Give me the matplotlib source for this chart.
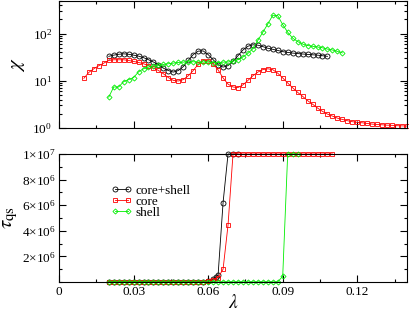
import numpy as np
import matplotlib
matplotlib.use('Agg')
import matplotlib.pyplot as plt
from matplotlib.ticker import MultipleLocator, FixedLocator, FuncFormatter, LogLocator, NullFormatter

plt.rcParams['font.family'] = ['Liberation Serif', 'DejaVu Serif']
plt.rcParams['mathtext.fontset'] = 'stix'

# ---- top panel: susceptibility chi ----
lam_core = [0.010, 0.012, 0.014, 0.016, 0.018, 0.020, 0.022, 0.024, 0.026, 0.028,
            0.030, 0.032, 0.034, 0.036, 0.038, 0.040, 0.042, 0.044, 0.046, 0.048,
            0.050, 0.052, 0.054, 0.056, 0.058, 0.060, 0.062, 0.064, 0.066, 0.068,
            0.070, 0.072, 0.074, 0.076, 0.078, 0.080, 0.082, 0.084, 0.086, 0.088,
            0.090, 0.092, 0.094, 0.096, 0.098, 0.100, 0.102, 0.104, 0.106, 0.108,
            0.110, 0.112, 0.114, 0.116, 0.118, 0.120, 0.122, 0.124, 0.126, 0.128,
            0.130, 0.132, 0.134, 0.136, 0.138, 0.140]
chi_core = [11.3, 15.1, 18.0, 20.9, 23.7, 27.0, 27.9, 27.9, 27.9, 27.0,
            25.7, 24.5, 23.0, 20.9, 18.6, 16.6, 14.1, 11.7, 10.2, 9.9,
            10.6, 12.8, 16.5, 22.5, 26.8, 26.5, 23.0, 17.0, 11.5, 8.5,
            7.4, 7.2, 8.2, 10.2, 12.8, 15.3, 17.3, 18.0, 17.2, 14.5,
            11.5, 9.0, 7.1, 5.7, 4.7, 3.8, 3.2, 2.65, 2.25, 1.97,
            1.79, 1.62, 1.52, 1.43, 1.36, 1.32, 1.29, 1.25, 1.21, 1.19,
            1.17, 1.15, 1.14, 1.12, 1.11, 1.10]

lam_cs = [0.020, 0.022, 0.024, 0.026, 0.028, 0.030, 0.032, 0.034, 0.036, 0.038,
          0.040, 0.042, 0.044, 0.046, 0.048, 0.050, 0.052, 0.054, 0.056, 0.058,
          0.060, 0.062, 0.064, 0.066, 0.068, 0.070, 0.072, 0.074, 0.076, 0.078,
          0.080, 0.082, 0.084, 0.086, 0.088, 0.090, 0.092, 0.094, 0.096, 0.098,
          0.100, 0.102, 0.104, 0.106, 0.108]
chi_cs = [33.0, 35.0, 36.5, 37.3, 36.5, 35.0, 33.3, 31.0, 28.0, 25.0,
          22.0, 18.5, 16.5, 15.3, 16.5, 20.0, 27.0, 36.0, 42.5, 43.0,
          36.0, 28.0, 22.0, 19.5, 21.0, 26.0, 34.0, 45.0, 54.0, 58.0,
          57.0, 53.0, 49.0, 46.5, 44.0, 41.5, 40.0, 38.7, 37.8, 37.0,
          36.3, 35.6, 35.0, 34.0, 33.0]

lam_shell = [0.020, 0.022, 0.024, 0.026, 0.028, 0.030, 0.032, 0.034, 0.036, 0.038,
             0.040, 0.042, 0.044, 0.046, 0.048, 0.050, 0.052, 0.054, 0.056, 0.058,
             0.060, 0.062, 0.064, 0.066, 0.068, 0.070, 0.072, 0.074, 0.076, 0.078,
             0.080, 0.082, 0.084, 0.086, 0.088, 0.090, 0.092, 0.094, 0.096, 0.098,
             0.100, 0.102, 0.104, 0.106, 0.108, 0.110, 0.112, 0.114]
chi_shell = [4.5, 7.4, 7.4, 9.6, 10.6, 11.7, 15.5, 18.0, 19.5, 20.5,
             21.2, 22.2, 23.0, 23.7, 24.5, 24.9, 25.3, 25.3, 25.0, 24.9,
             24.9, 24.2, 24.2, 24.9, 25.0, 26.0, 28.0, 32.0, 38.0, 48.0,
             72.0, 107.0, 160.0, 245.0, 240.0, 155.0, 107.0, 80.0, 68.0, 60.0,
             56.0, 54.0, 52.0, 50.0, 47.0, 45.0, 42.0, 39.0]

# ---- bottom panel: tau_qs (units of 1e6) ----
lam_cs_t = [0.020, 0.022, 0.024, 0.026, 0.028, 0.030, 0.032, 0.034, 0.036, 0.038,
            0.040, 0.042, 0.044, 0.046, 0.048, 0.050, 0.052, 0.054, 0.056, 0.058,
            0.060, 0.062, 0.063, 0.064, 0.066, 0.068, 0.070, 0.072]
tau_cs = [0.03, 0.03, 0.03, 0.03, 0.03, 0.03, 0.03, 0.03, 0.03, 0.03,
          0.03, 0.03, 0.03, 0.03, 0.03, 0.03, 0.03, 0.03, 0.03, 0.04,
          0.08, 0.2, 0.4, 0.55, 6.2, 10.0, 10.0, 10.0]

lam_core_t = [0.020, 0.022, 0.024, 0.026, 0.028, 0.030, 0.032, 0.034, 0.036, 0.038,
              0.040, 0.042, 0.044, 0.046, 0.048, 0.050, 0.052, 0.054, 0.056, 0.058,
              0.060, 0.062, 0.064, 0.066, 0.068, 0.070, 0.072, 0.074, 0.076, 0.078,
              0.080, 0.082, 0.084, 0.086, 0.088, 0.090, 0.092, 0.094, 0.096, 0.098,
              0.100, 0.102, 0.104, 0.106, 0.108, 0.110]
tau_core = [0.03, 0.03, 0.03, 0.03, 0.03, 0.03, 0.03, 0.03, 0.03, 0.03,
            0.03, 0.03, 0.03, 0.03, 0.03, 0.03, 0.03, 0.03, 0.03, 0.04,
            0.06, 0.15, 0.35, 1.0, 4.45, 10.0, 10.0, 10.0, 10.0, 10.0,
            10.0, 10.0, 10.0, 10.0, 10.0, 10.0, 10.0, 10.0, 10.0, 10.0,
            10.0, 10.0, 10.0, 10.0, 10.0, 10.0]

lam_shell_t = [0.020, 0.022, 0.024, 0.026, 0.028, 0.030, 0.032, 0.034, 0.036, 0.038,
               0.040, 0.042, 0.044, 0.046, 0.048, 0.050, 0.052, 0.054, 0.056, 0.058,
               0.060, 0.062, 0.064, 0.066, 0.068, 0.070, 0.072, 0.074, 0.076, 0.078,
               0.080, 0.082, 0.084, 0.086, 0.088, 0.090, 0.092, 0.094, 0.096]
tau_shell = [0.01, 0.01, 0.01, 0.01, 0.01, 0.01, 0.01, 0.01, 0.01, 0.01,
             0.01, 0.01, 0.01, 0.01, 0.01, 0.01, 0.01, 0.01, 0.01, 0.01,
             0.01, 0.01, 0.01, 0.01, 0.01, 0.01, 0.01, 0.01, 0.01, 0.01,
             0.01, 0.01, 0.01, 0.01, 0.01, 0.45, 10.0, 10.0, 10.0]

labels = ['core+shell', 'core', 'shell']
colors = ['#000000', '#ff0000', '#00ee00']
markers = ['o', 's', 'D']
msizes = [3.6, 3.3, 2.6]

fig = plt.figure(figsize=(4.09, 3.13), dpi=100)
ax1 = fig.add_axes([0.1443, 0.591, 0.8508, 0.407])
ax2 = fig.add_axes([0.1443, 0.099, 0.8508, 0.409])

top = [(lam_cs, chi_cs), (lam_core, chi_core), (lam_shell, chi_shell)]
bot = [(lam_cs_t, tau_cs), (lam_core_t, tau_core), (lam_shell_t, tau_shell)]

for (x, y), c, m, s in zip(top, colors, markers, msizes):
    ax1.plot(x, y, color=c, lw=0.6, marker=m, ms=s, mfc='none', mec=c, mew=0.6,
             clip_on=False)
for (x, y), c, m, s, lab in zip(bot, colors, markers, msizes, labels):
    ax2.plot(x, np.array(y) * 1e6, color=c, lw=0.6, marker=m, ms=s, mfc='none',
             mec=c, mew=0.6, clip_on=False, label=lab)

for ax in (ax1, ax2):
    ax.set_xlim(0, 0.14)
    ax.xaxis.set_major_locator(MultipleLocator(0.03))
    ax.xaxis.set_minor_locator(MultipleLocator(0.015))
    ax.tick_params(which='both', direction='in', top=True, right=True,
                   labelsize=9.5, width=0.8)
    ax.tick_params(which='major', length=5)
    ax.tick_params(which='minor', length=2.5)
    for sp in ax.spines.values():
        sp.set_linewidth(0.8)

ax1.set_yscale('log')
ax1.set_ylim(1, 500)
ax1.yaxis.set_major_locator(LogLocator(base=10, numticks=10))
ax1.yaxis.set_minor_locator(LogLocator(base=10, subs=np.arange(2, 10), numticks=10))
ax1.yaxis.set_minor_formatter(NullFormatter())
ax1.tick_params(axis='x', labelbottom=False)
ax1.tick_params(axis='y', pad=5)
ax1.set_ylabel(r'$\chi$', fontsize=15, labelpad=4)

ax2.set_ylim(0, 1e7)
ax2.yaxis.set_major_locator(FixedLocator([2e6, 4e6, 6e6, 8e6, 1e7]))
ax2.yaxis.set_minor_locator(MultipleLocator(1e6))


def sci(v, pos):
    e = int(np.floor(np.log10(v)))
    mant = int(round(v / 10 ** e))
    return r'$\mathdefault{%d{\times}10^{%d}}$' % (mant, e)


ax2.yaxis.set_major_formatter(FuncFormatter(sci))
ax2.tick_params(axis='y', pad=2)
ax2.xaxis.set_major_formatter(FuncFormatter(lambda v, p: '0' if abs(v) < 1e-9 else '%g' % round(v, 3)))
ax2.tick_params(axis='x', pad=3)
ax2.set_xlabel(r'$\lambda$', fontsize=14, labelpad=-3)
ax2.set_ylabel(r'$\tau_{\rm qs}$', fontsize=15, labelpad=2)

ax2.legend(loc='upper left', bbox_to_anchor=(0.15, 0.76), frameon=False,
           fontsize=9.5, numpoints=2, handlelength=1.6, handletextpad=0.25,
           labelspacing=-0.1, borderpad=0, borderaxespad=0)

fig.savefig('out.png', dpi=100)
